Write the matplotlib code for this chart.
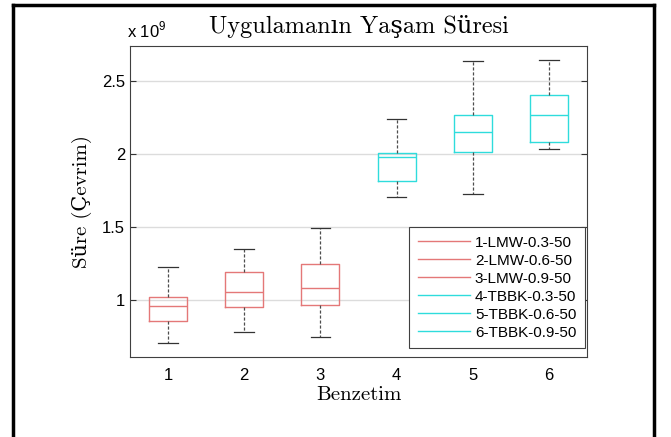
import matplotlib.pyplot as plt
from matplotlib.lines import Line2D

plt.rcParams['mathtext.fontset'] = 'custom'
plt.rcParams['mathtext.rm'] = 'Liberation Sans'

# degerler 1e9 cevrim biriminde
labels = ['1-LMW-0.3-50', '2-LMW-0.6-50', '3-LMW-0.9-50',
          '4-TBBK-0.3-50', '5-TBBK-0.6-50', '6-TBBK-0.9-50']
positions = [1, 2, 3, 4, 5, 6]
whislo = [0.703, 0.779, 0.744, 1.708, 1.724, 2.036]
q1 = [0.858, 0.954, 0.963, 1.813, 2.012, 2.082]
med = [0.959, 1.057, 1.082, 1.982, 2.151, 2.265]
q3 = [1.018, 1.192, 1.247, 2.005, 2.269, 2.402]
whishi = [1.224, 1.352, 1.493, 2.237, 2.639, 2.644]
colors = ['#e47878'] * 3 + ['#2fdcdc'] * 3

serif = ['cmr10', 'DejaVu Serif']
sans = ['Liberation Sans', 'DejaVu Sans']

fig = plt.figure(figsize=(6.71, 4.37), dpi=100)
ax = fig.add_axes([130 / 671, 1 - 357 / 437, 457 / 671, 311 / 437])

stats = []
for i in range(len(labels)):
    stats.append({'med': med[i], 'q1': q1[i], 'q3': q3[i],
                  'whislo': whislo[i], 'whishi': whishi[i], 'fliers': []})

bp = ax.bxp(stats, positions=positions, widths=0.5, capwidths=0.26,
            showfliers=False, manage_ticks=False,
            whiskerprops=dict(color='0.3', linestyle=(0, (2.5, 1.5)), lw=0.9),
            capprops=dict(color='0.2', lw=0.9))
for i, c in enumerate(colors):
    bp['boxes'][i].set_color(c)
    bp['boxes'][i].set_linewidth(1.0)
    bp['medians'][i].set_color(c)
    bp['medians'][i].set_linewidth(1.0)

ax.set_xlim(0.5, 6.5)
ax.set_ylim(0.61, 2.74)
ax.set_xticks(positions)
ax.set_xticklabels([str(p) for p in positions], family=sans, fontsize=12)
ax.set_yticks([1, 1.5, 2, 2.5])
ax.set_yticklabels(['1', '1.5', '2', '2.5'], family=sans, fontsize=12)
ax.tick_params(axis='y', direction='in', length=4, right=True, color='0.2')
ax.tick_params(axis='x', length=0, pad=8)
ax.yaxis.grid(True, color='#dcdcdc', lw=1)
ax.set_axisbelow(True)
for s in ax.spines.values():
    s.set_color('0.25')

ax.set_title('Uygulamanın Yaşam Süresi', family=serif, fontsize=17.5, pad=9)
ax.set_xlabel('Benzetim', family=serif, fontsize=15, labelpad=2)
ax.set_ylabel('Süre (Çevrim)', family=serif, fontsize=15, labelpad=7)
fig.text(127 / 671, 1 - 37 / 437, r'x 10$^{9}$', family=sans, fontsize=12)

handles = [Line2D([], [], color=c, lw=1) for c in colors]
leg = ax.legend(handles, labels, loc='lower right', bbox_to_anchor=(0.995, 0.029),
                prop={'family': sans, 'size': 11}, borderaxespad=0,
                fancybox=False, edgecolor='0.25', framealpha=1,
                handlelength=3.4, labelspacing=0.26, borderpad=0.55, handletextpad=0.35)
leg.get_frame().set_linewidth(0.8)

# cerceve
x0, x1, yt = 13 / 671, 654 / 671, 1 - 5 / 437
for xs, ys in [([x0, x0], [0, yt]), ([x0, x1], [yt, yt]), ([x1, x1], [yt, 0])]:
    fig.add_artist(Line2D(xs, ys, transform=fig.transFigure, color='black', lw=2.5))

fig.savefig('out.png', dpi=100)
